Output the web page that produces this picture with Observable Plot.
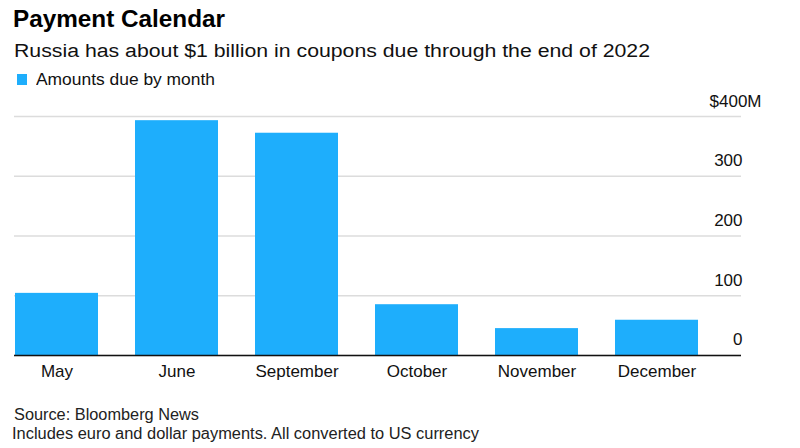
<!DOCTYPE html>
<html>
<head>
<meta charset="utf-8">
<script src="https://cdn.jsdelivr.net/npm/d3@7"></script>
<script src="https://cdn.jsdelivr.net/npm/@observablehq/plot@0.6"></script>
<style>
  html, body { margin: 0; padding: 0; background: #fff; }
  body { width: 800px; height: 448px; position: relative; overflow: hidden; font-family: "Liberation Sans", Arial, sans-serif; }
  .t { position: absolute; white-space: nowrap; transform-origin: 0 0; line-height: 1; }
  #title { left: 13px; top: 6.7px; font-size: 24px; font-weight: bold; color: #000; }
  #subtitle { left: 14px; top: 42px; font-size: 18px; color: #111; }
  #swatch { position: absolute; left: 17px; top: 74px; width: 10px; height: 11px; background: #1eaefc; }
  #legend { left: 36px; top: 71px; font-size: 16.5px; color: #111; }
  #chart { position: absolute; left: 0; top: 80px; }
  #chart svg { overflow: visible; }
  #src { left: 14px; top: 407px; font-size: 16px; color: #222; }
  #note { left: 12px; top: 425.5px; font-size: 16px; color: #222; }
</style>
</head>
<body>
<div id="chart"></div>
<div class="t" id="title" data-w="212">Payment Calendar</div>
<div class="t" id="subtitle" data-w="636">Russia has about $1 billion in coupons due through the end of 2022</div>
<div id="swatch"></div>
<div class="t" id="legend" data-w="179">Amounts due by month</div>
<div class="t" id="src" data-w="185">Source: Bloomberg News</div>
<div class="t" id="note" data-w="467">Includes euro and dollar payments. All converted to US currency</div>
<script>
const months = ["May", "June", "September", "October", "November", "December"];
const amounts = [104, 393, 372, 85, 45, 59];
const yTicks = [0, 100, 200, 300];
const yTopTick = [400];

const data = months.map((m, i) => ({month: m, amount: amounts[i]}));
const barColor = "#1eaefc";

const chart = Plot.plot({
  width: 800,
  height: 310,
  marginLeft: 14,
  marginRight: 101,
  marginTop: 36,
  marginBottom: 35,
  style: {fontFamily: "'Liberation Sans', Arial, sans-serif", fontSize: "17px", color: "#111", background: "transparent", overflow: "visible"},
  x: {domain: months, paddingInner: 0.31, paddingOuter: 0, tickSize: 0, tickPadding: 9, label: null},
  y: {domain: [0, 400], axis: null},
  marks: [
    Plot.ruleY(yTicks.concat(yTopTick), {stroke: "#dcdcdc", strokeWidth: 1.5, insetRight: -42}),
    Plot.barY(data, {x: "month", y: "amount", fill: barColor}),
    Plot.ruleY([0], {stroke: "#111", strokeWidth: 1.5, insetRight: -42}),
    Plot.text(yTicks, {y: d => d, text: d => String(d), frameAnchor: "right", textAnchor: "end", dx: 43, dy: -15.5, fill: "#111"}),
    Plot.text(yTopTick, {y: d => d, text: d => "$" + d + "M", frameAnchor: "right", textAnchor: "end", dx: 62, dy: -15, fill: "#111"})
  ]
});
document.getElementById("chart").appendChild(chart);

document.querySelectorAll("[data-w]").forEach(el => {
  const target = +el.dataset.w;
  const w = el.getBoundingClientRect().width;
  if (w > 0) el.style.transform = `scaleX(${target / w})`;
});
</script>
</body>
</html>
